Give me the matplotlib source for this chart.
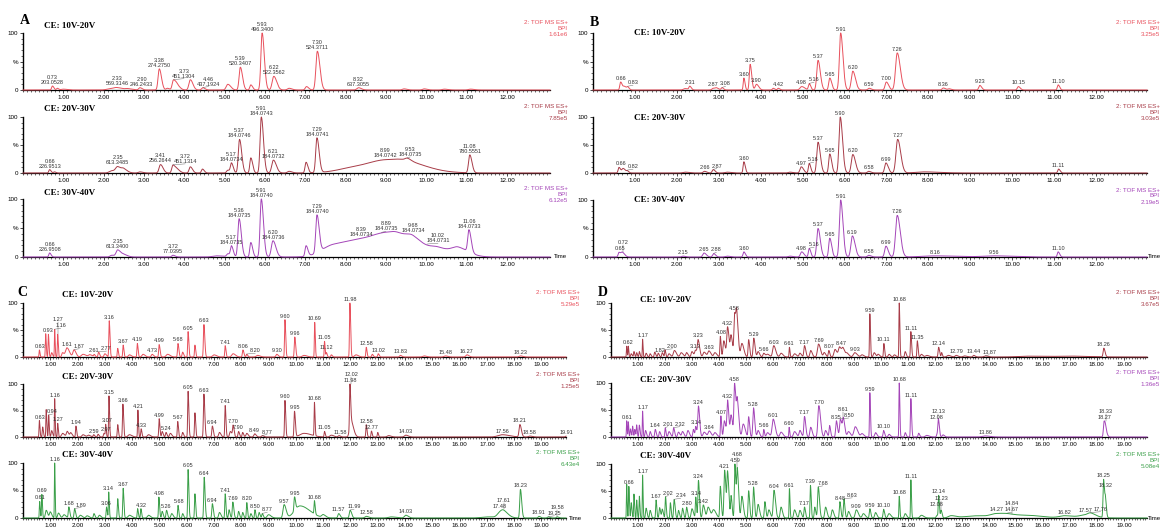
import numpy as np
import matplotlib
matplotlib.use('Agg')
import matplotlib.pyplot as plt
from matplotlib.ticker import MultipleLocator, FixedLocator

plt.rcParams['font.family'] = ['Liberation Sans', 'DejaVu Sans']

# ---- peak tables: (retention time, height %, width) ----
A1_peaks = [(0.73, 7, .02), (0.85, 3, .02), (1.0, 1.5, .05), (2.15, 2, .08), (2.33, 3.5, .08),
            (2.6, 2, .06), (2.90, 4, .03), (3.38, 37, .03), (3.58, 3, .03), (3.73, 17, .03),
            (3.82, 8, .04), (4.15, 18, .035), (4.46, 4, .03), (5.08, 10, .04), (5.39, 40, .03),
            (5.65, 9, .025), (5.93, 100, .03), (6.22, 24, .04), (6.6, 3, .04), (7.03, 6, .03),
            (7.30, 68, .035), (8.32, 4, .04), (9.45, 2, .04), (9.95, 2, .04), (10.45, 1.5, .05),
            (11.1, 1.5, .05)]
A1_labels = ["0.73\n203.0528", "2.33\n569.3146", "2.90\n246.2433", "3.38\n274.2750",
             "3.73\n451.1304", "4.46\n437.1924", "5.39\n520.3407", "5.93\n496.3400",
             "6.22\n522.3562", "7.30\n524.3711", "8.32\n637.3055"]

A2_peaks = [(0.66, 6, .02), (0.78, 2, .02), (2.2, 4, .06), (2.35, 10, .05), (2.5, 6, .05),
            (2.9, 2, .04), (3.41, 15, .035), (3.72, 14, .03), (3.82, 6, .04), (4.15, 11, .03),
            (4.45, 7, .025), (5.08, 5, .03), (5.17, 17, .025), (5.37, 60, .03), (5.65, 27, .025),
            (5.91, 100, .03), (6.21, 23, .04), (6.6, 3, .04), (7.02, 19, .025), (7.29, 62, .03),
            (8.3, 10, .45), (9.0, 15, .4), (9.5, 8, .3), (9.53, 4, .05), (11.08, 32, .03)]
A2_labels = ["0.66\n226.9513", "2.35\n613.3485", "3.41\n256.2644", "3.72\n451.1314",
             "5.17\n184.0734", "5.37\n184.0746", "5.91\n184.0743", "6.21\n184.0732",
             "7.29\n184.0741", "8.99\n184.0742", "9.53\n184.0735", "11.08\n780.5551"]

A3_peaks = [(0.66, 7, .02), (2.2, 3, .04), (2.35, 12, .04), (2.5, 4, .05), (3.72, 3, .03),
            (4.8, 2, .1), (5.08, 5, .03), (5.17, 18, .025), (5.36, 66, .03), (5.65, 25, .025),
            (5.91, 100, .03), (6.20, 28, .04), (7.02, 18, .025), (7.29, 65, .03), (7.7, 18, .3),
            (8.5, 20, .45), (9.0, 22, .35), (9.3, 10, .2), (9.68, 12, .15), (10.3, 12, .2),
            (10.8, 12, .15), (11.06, 38, .03)]
A3_labels = ["0.66\n226.9508", "2.35\n613.3400", "3.72\n77.0395", "5.17\n184.0735",
             "5.36\n184.0735", "5.91\n184.0740", "6.20\n184.0736", "7.29\n184.0740",
             "8.39\n184.0734", "8.89\n184.0735", "9.68\n184.0734", "10.02\n184.0731",
             "11.06\n184.0733"]

B1_peaks = [(0.66, 14, .02), (0.75, 6, .03), (0.83, 4, .02), (2.2, 2.5, .04), (2.31, 6, .02),
            (2.87, 3, .03), (2.95, 3, .03), (3.08, 4, .02), (3.60, 21, .015), (3.75, 45, .02),
            (3.90, 10, .03), (4.3, 3, .02), (4.42, 3, .02), (4.98, 6, .04), (5.16, 11, .02),
            (5.37, 52, .03), (5.65, 21, .025), (5.91, 100, .03), (6.20, 33, .035), (6.59, 3, .03),
            (7.00, 14, .03), (7.26, 65, .04), (8.36, 3.5, .03), (8.5, 2, .03), (9.23, 8, .025),
            (10.15, 6, .025), (11.10, 9, .02)]
B1_labels = ["0.66", "0.83", "2.31", "2.87", "3.08", "3.60", "3.75", "3.90", "4.42", "4.98",
             "5.16", "5.37", "5.65", "5.91", "6.20", "6.59", "7.00", "7.26", "8.36", "9.23",
             "10.15", "11.10"]

B2_peaks = [(0.62, 10, .02), (0.72, 8, .03), (0.82, 3, .02), (2.2, 1.5, .05), (2.66, 3, .03),
            (2.87, 6, .025), (3.2, 1.5, .05), (3.60, 20, .018), (4.7, 1.5, .04), (4.97, 11, .03),
            (5.16, 17, .02), (5.37, 55, .03), (5.65, 34, .025), (5.90, 100, .03), (6.20, 33, .035),
            (6.58, 3, .03), (6.99, 18, .03), (7.27, 60, .04), (7.9, 2, .2), (11.11, 7, .02)]
B2_labels = ["0.66", "0.82", "2.66", "2.87", "3.60", "4.97", "5.16", "5.37", "5.65", "5.90",
             "6.20", "6.58", "6.99", "7.27", "11.11"]

B3_peaks = [(0.62, 8, .02), (0.7, 8, .03), (2.15, 1.5, .03), (2.65, 7, .03), (2.88, 6, .025),
            (3.2, 1.5, .04), (3.60, 9, .02), (4.7, 1.5, .04), (4.98, 9, .03), (5.16, 15, .02),
            (5.37, 50, .03), (5.65, 33, .025), (5.91, 100, .03), (6.19, 37, .035), (6.58, 3, .03),
            (6.99, 19, .03), (7.26, 73, .04), (8.16, 2, .3), (9.56, 2, .25), (11.10, 9, .02)]
B3_labels = ["0.65", "0.72", "2.15", "2.65", "2.88", "3.60", "4.98", "5.16", "5.37", "5.65",
             "5.91", "6.19", "6.58", "6.99", "7.26", "8.16", "9.56", "11.10"]

C1_peaks = [(0.6, 13, .012), (0.83, 43, .012), (0.93, 42, .012), (1.05, 8, .02), (1.16, 51, .01),
            (1.27, 42, .012), (1.45, 8, .03), (1.61, 17, .05), (1.87, 13, .04), (2.2, 5, .06),
            (2.45, 4, .05), (2.61, 4, .02), (2.77, 9, .02), (3.0, 6, .03), (3.16, 67, .015),
            (3.47, 16, .015), (3.67, 22, .015), (3.9, 4, .04), (4.19, 25, .015), (4.4, 5, .04),
            (4.73, 5, .03), (4.99, 23, .018), (5.3, 5, .05), (5.68, 25, .018), (5.85, 9, .02),
            (6.05, 47, .015), (6.3, 22, .015), (6.63, 60, .018), (7.0, 4, .05), (7.41, 21, .015),
            (7.7, 6, .05), (8.06, 13, .02), (8.20, 5, .02), (8.6, 3, .05), (9.30, 5, .03),
            (9.60, 69, .015), (9.96, 37, .018), (10.3, 3, .06), (10.69, 64, .012), (11.05, 29, .012),
            (11.12, 8, .015), (11.3, 4, .02), (11.98, 100, .015), (12.2, 4, .05), (12.58, 18, .015),
            (12.8, 5, .02), (13.02, 6, .02), (13.83, 3, .03), (14.7, 2, .05), (15.48, 2, .05),
            (16.27, 4, .04), (18.23, 2, .05)]
C1_labels = ["0.63", "0.93", "1.16", "1.27", "1.61", "1.87", "2.61", "2.77", "3.16", "3.67",
             "4.19", "4.73", "4.99", "5.68", "6.05", "6.63", "7.41", "8.06", "8.20", "9.30",
             "9.60", "9.96", "10.69", "11.05", "11.12", "11.98", "12.58", "13.02", "13.83",
             "15.48", "16.27", "18.23"]

C2_peaks = [(0.6, 36, .012), (0.72, 22, .015), (0.85, 60, .012), (0.94, 48, .012), (1.05, 14, .02),
            (1.16, 84, .01), (1.27, 30, .012), (1.45, 8, .04), (1.62, 12, .03), (1.75, 9, .03),
            (1.94, 24, .015), (2.2, 5, .04), (2.4, 4, .04), (2.59, 5, .02), (2.75, 6, .02),
            (2.97, 8, .02), (3.03, 26, .012), (3.15, 90, .012), (3.47, 27, .015), (3.66, 72, .015),
            (3.9, 5, .05), (4.21, 59, .012), (4.33, 18, .015), (4.6, 5, .04), (4.99, 40, .015),
            (5.1, 12, .02), (5.24, 10, .02), (5.4, 8, .03), (5.67, 34, .015), (5.85, 10, .02),
            (6.05, 100, .015), (6.3, 53, .015), (6.63, 94, .018), (6.94, 24, .02), (7.2, 10, .03),
            (7.41, 69, .015), (7.6, 12, .03), (7.70, 24, .02), (7.90, 12, .02), (8.05, 10, .02),
            (8.2, 8, .03), (8.49, 7, .03), (8.77, 3, .03), (9.60, 80, .015), (9.95, 56, .018),
            (10.3, 8, .15), (10.68, 73, .012), (11.05, 12, .015), (11.3, 4, .05), (11.58, 3, .03),
            (11.98, 90, .015), (12.02, 35, .05), (12.58, 27, .015), (12.77, 13, .015), (13.0, 10, .015),
            (13.4, 3, .05), (14.03, 4, .05), (17.56, 5, .15), (18.21, 27, .03), (18.58, 2, .05),
            (19.91, 2, .03)]
C2_labels = ["0.63", "0.94", "1.16", "1.27", "1.94", "2.59", "2.97", "3.07", "3.15", "3.66",
             "4.21", "4.33", "4.99", "5.24", "5.67", "6.05", "6.63", "6.94", "7.41", "7.70",
             "7.90", "8.49", "8.77", "9.60", "9.95", "10.68", "11.05", "11.58", "11.98", "12.02",
             "12.58", "12.77", "14.03", "17.56", "18.21", "18.58", "19.91"]

C3_peaks = [(0.61, 30, .012), (0.69, 43, .012), (0.85, 14, .03), (1.0, 11, .03), (1.16, 100, .01),
            (1.3, 9, .03), (1.5, 6, .04), (1.68, 20, .02), (1.89, 17, .02), (2.1, 5, .04),
            (2.35, 4, .04), (2.6, 8, .02), (2.8, 5, .03), (3.06, 20, .015), (3.14, 47, .012),
            (3.47, 35, .015), (3.67, 54, .015), (3.9, 5, .05), (4.2, 17, .015), (4.32, 17, .015),
            (4.6, 5, .04), (4.98, 38, .015), (5.1, 12, .02), (5.26, 14, .02), (5.45, 8, .03),
            (5.68, 23, .015), (5.85, 8, .02), (6.05, 88, .015), (6.3, 44, .015), (6.64, 74, .018),
            (6.94, 26, .02), (7.2, 10, .03), (7.41, 44, .015), (7.55, 15, .02), (7.69, 29, .02),
            (7.9, 12, .02), (8.05, 10, .02), (8.20, 28, .015), (8.35, 8, .02), (8.50, 15, .015),
            (8.65, 10, .02), (8.77, 8, .02), (9.0, 6, .05), (9.57, 24, .04), (9.95, 25, .02),
            (10.15, 22, .2), (10.68, 24, .015), (11.0, 5, .05), (11.57, 8, .03), (11.99, 14, .03),
            (12.58, 3, .05), (13.5, 2, .1), (14.03, 5, .05), (17.0, 2, .2), (17.48, 8, .1),
            (17.61, 8, .1), (18.23, 52, .025), (18.91, 3, .03), (19.25, 2, .03), (19.58, 2, .03)]
C3_labels = ["0.61", "0.69", "1.16", "1.68", "1.89", "3.06", "3.14", "3.67", "4.32", "4.98",
             "5.26", "5.68", "6.05", "6.64", "6.94", "7.41", "7.69", "8.20", "8.50", "8.77",
             "9.57", "9.95", "10.68", "11.57", "11.99", "12.58", "14.03", "17.48", "17.61",
             "18.23", "18.91", "19.25", "19.58"]

D1_peaks = [(0.58, 20, .01), (0.64, 20, .01), (0.75, 6, .02), (0.85, 10, .015), (0.95, 8, .015),
            (1.05, 10, .015), (1.17, 33, .01), (1.3, 7, .02), (1.45, 6, .02), (1.62, 9, .02),
            (1.75, 7, .02), (1.9, 8, .02), (2.00, 13, .015), (2.15, 6, .03), (2.35, 12, .04),
            (2.6, 8, .04), (2.8, 8, .03), (3.0, 10, .03), (3.13, 12, .03), (3.23, 30, .03),
            (3.45, 9, .04), (3.63, 11, .04), (3.85, 8, .04), (4.05, 38, .015), (4.18, 30, .03),
            (4.32, 55, .03), (4.45, 38, .03), (4.58, 78, .025), (4.66, 72, .03), (4.85, 25, .04),
            (5.1, 32, .02), (5.29, 35, .025), (5.45, 10, .03), (5.66, 7, .03), (5.8, 5, .04),
            (6.03, 21, .04), (6.3, 7, .04), (6.61, 18, .012), (6.8, 6, .04), (7.0, 7, .03),
            (7.17, 21, .025), (7.4, 12, .03), (7.69, 24, .04), (7.9, 8, .03), (8.07, 12, .02),
            (8.3, 14, .04), (8.47, 18, .04), (8.6, 14, .04), (8.75, 6, .04), (9.03, 8, .05),
            (9.3, 4, .04), (9.59, 80, .013), (9.75, 8, .03), (9.9, 5, .03), (10.11, 25, .015),
            (10.3, 5, .03), (10.5, 4, .03), (10.68, 100, .012), (10.9, 10, .02), (11.11, 47, .015),
            (11.35, 30, .015), (11.5, 5, .03), (11.7, 3, .05), (12.14, 18, .02), (12.25, 8, .015),
            (12.5, 3, .05), (12.79, 3, .04), (13.1, 2, .05), (13.44, 3, .03), (13.87, 2, .05),
            (15.5, 1.5, .4), (17.0, 1.5, .4), (18.26, 16, .025)]
D1_labels = ["0.62", "1.17", "1.82", "2.00", "3.13", "3.23", "3.63", "4.08", "4.32", "4.58",
             "5.29", "5.66", "6.03", "6.61", "7.17", "7.69", "8.07", "8.47", "9.03", "9.59",
             "10.11", "10.68", "11.11", "11.35", "12.14", "12.79", "13.44", "13.87", "18.26"]

D2_peaks = [(0.58, 30, .01), (0.64, 28, .01), (0.72, 15, .015), (0.8, 20, .012), (0.88, 14, .015),
            (0.95, 22, .012), (1.05, 22, .015), (1.17, 48, .01), (1.28, 12, .02), (1.45, 10, .02),
            (1.64, 14, .02), (1.8, 10, .02), (2.01, 17, .015), (2.15, 10, .03), (2.32, 17, .02),
            (2.5, 9, .03), (2.65, 10, .03), (2.85, 12, .03), (3.05, 14, .02), (3.14, 19, .02),
            (3.24, 57, .025), (3.45, 9, .04), (3.64, 11, .04), (3.85, 8, .04), (4.07, 39, .015),
            (4.2, 30, .03), (4.32, 66, .025), (4.45, 40, .03), (4.58, 97, .025), (4.68, 65, .03),
            (4.9, 24, .04), (5.1, 37, .02), (5.28, 54, .025), (5.45, 12, .03), (5.66, 14, .015),
            (5.8, 8, .04), (6.01, 33, .04), (6.3, 9, .04), (6.60, 18, .012), (6.8, 10, .04),
            (7.0, 12, .03), (7.17, 38, .025), (7.4, 18, .03), (7.70, 58, .035), (7.95, 12, .03),
            (8.1, 21, .02), (8.35, 30, .025), (8.50, 33, .03), (8.61, 32, .03), (8.8, 10, .04),
            (9.05, 19, .05), (9.3, 6, .04), (9.59, 82, .013), (9.8, 8, .03), (10.10, 12, .02),
            (10.3, 5, .03), (10.68, 100, .012), (10.9, 8, .02), (11.11, 71, .015), (11.4, 7, .02),
            (11.7, 3, .05), (12.08, 5, .02), (12.13, 32, .02), (12.3, 4, .03), (13.86, 2, .1),
            (18.27, 28, .025), (18.33, 10, .03)]
D2_labels = ["0.61", "1.17", "1.64", "2.01", "2.32", "3.14", "3.24", "3.64", "4.07", "4.32",
             "4.58", "5.28", "5.66", "6.01", "6.60", "7.17", "7.70", "8.35", "8.50", "8.61",
             "9.59", "10.10", "10.68", "11.11", "12.08", "12.13", "13.86", "18.27", "18.33"]

D3_peaks = [(0.58, 62, .01), (0.66, 58, .012), (0.75, 28, .015), (0.85, 44, .012), (0.95, 33, .012),
            (1.05, 40, .012), (1.17, 79, .01), (1.3, 18, .02), (1.45, 14, .02), (1.67, 33, .015),
            (1.8, 19, .02), (1.9, 16, .02), (2.02, 39, .015), (2.2, 28, .015), (2.34, 34, .02),
            (2.5, 14, .02), (2.65, 18, .02), (2.80, 20, .02), (3.0, 17, .03), (3.14, 38, .015),
            (3.24, 69, .02), (3.42, 24, .03), (3.6, 20, .04), (3.8, 15, .05), (4.05, 58, .02),
            (4.21, 88, .025), (4.32, 82, .025), (4.45, 40, .02), (4.59, 99, .02), (4.68, 88, .025),
            (4.85, 40, .03), (5.1, 50, .02), (5.28, 57, .02), (5.45, 25, .03), (5.7, 30, .02),
            (5.85, 15, .03), (6.04, 51, .03), (6.3, 20, .03), (6.61, 54, .012), (6.8, 15, .03),
            (7.0, 14, .03), (7.17, 20, .02), (7.39, 60, .015), (7.55, 20, .02), (7.68, 57, .025),
            (7.95, 20, .03), (8.2, 15, .03), (8.48, 30, .02), (8.63, 35, .02), (8.8, 12, .03),
            (9.09, 15, .04), (9.35, 8, .04), (9.59, 17, .02), (9.8, 10, .03), (10.10, 16, .02),
            (10.3, 8, .04), (10.68, 40, .012), (10.9, 8, .03), (11.11, 70, .012), (11.5, 5, .05),
            (12.08, 5, .03), (12.14, 39, .015), (12.23, 14, .02), (12.6, 4, .1), (13.5, 4, .4),
            (14.27, 5, .2), (14.8, 5, .3), (15.6, 3, .3), (16.82, 4, .2), (17.57, 5, .2),
            (17.76, 5, .1), (18.25, 70, .02), (18.32, 30, .02)]
D3_labels = ["0.66", "1.17", "1.67", "2.02", "2.34", "2.80", "3.14", "3.24", "3.42", "4.21",
             "4.59", "4.68", "5.28", "6.04", "6.61", "7.17", "7.39", "7.68", "8.48", "8.63",
             "9.09", "9.59", "10.10", "10.68", "11.11", "12.08", "12.14", "12.23", "14.27",
             "14.67", "14.84", "16.82", "17.57", "17.76", "18.25", "18.32"]

ce_names = ["CE: 10V-20V", "CE: 20V-30V", "CE: 30V-40V"]
A_scale = ["1.61e6", "7.85e5", "6.12e5"]
B_scale = ["3.25e5", "3.03e5", "2.19e5"]
C_scale = ["5.29e5", "1.25e5", "6.43e4"]
D_scale = ["3.67e5", "1.36e5", "5.08e4"]

red = '#e8505c'
brown = '#a83c48'
purple = '#a445b8'
green = '#3a9f48'

W, H = 1162, 527
fig = plt.figure(figsize=(W / 100, H / 100), dpi=100)
LAB_FS = 4


def build(t, peaks):
    y = np.zeros_like(t)
    for rt, h, w in peaks:
        s = np.where(t < rt, w, w * 1.8)
        y += h * np.exp(-0.5 * ((t - rt) / s) ** 2)
    return y / y.max() * 100


def text_w(s):
    em = LAB_FS * 100 / 72
    return sum(0.556 * em if c.isdigit() else 0.278 * em for c in s)


def overlap(a, b):
    return a[0] < b[1] and b[0] < a[1] and a[2] < b[3] and b[2] < a[3]


def put_labels(ax, t, y, labels, sx, sy):
    # greedy placement in pixel units (x to the right, z upward from the zero line)
    placed = []
    for lab in labels:
        rt = float(lab.split('\n')[0])
        m = np.abs(t - rt) < 0.04
        top = y[m].max() if m.any() else 0
        lines = lab.split('\n')
        wpx = max(text_w(s) for s in lines) + 1
        hpx = 5.8 * len(lines)
        cx, zb = rt * sx, (top + 2) * sy
        for _ in range(8):
            box = (cx - wpx / 2, cx + wpx / 2, zb, zb + hpx)
            hit = [b for b in placed if overlap(box, b)]
            if not hit:
                break
            b = hit[0]
            shift = b[1] - box[0] + 0.5
            if cx + shift - rt * sx <= wpx * 0.75:
                cx += shift
            else:
                cx = rt * sx
                zb = b[3] + 0.3
        placed.append((cx - wpx / 2, cx + wpx / 2, zb, zb + hpx))
        tx, ty = cx / sx, zb / sy
        ax.text(tx, ty, lab, fontsize=LAB_FS, ha='center', va='bottom',
                linespacing=1.0, color='#333333', zorder=4)
        if abs(cx - rt * sx) > 2 or zb - (top + 2) * sy > 2:
            ax.plot([rt, tx], [top + 0.5, ty], color='#555555', lw=0.3, zorder=4, clip_on=False)


def draw_panel(letter, letter_xy, x0, xend, xmax, rows, traces, scales, colors,
               ce_x, ce_dy, right_x, nmaj, time_dx):
    fig.text(letter_xy[0] / W, 1 - letter_xy[1] / H, letter, fontsize=10, fontweight='bold',
             family='Liberation Serif', va='center', ha='left')
    t = np.linspace(0, xmax, 8000)
    for i, ((y100, y0), (peaks, labels), sc, col) in enumerate(zip(rows, traces, scales, colors)):
        ax = fig.add_axes([x0 / W, 1 - y0 / H, (xend - x0) / W, (y0 - y100) / H])
        y = build(t, peaks)
        ax.plot(t, y, color=col, lw=0.7, clip_on=False, zorder=3)
        ax.set_xlim(0, xmax)
        ax.set_ylim(0, 100)
        for s in ['top', 'right']:
            ax.spines[s].set_visible(False)
        ax.spines['left'].set_bounds(0, 100)
        ax.spines['left'].set_linewidth(1.0)
        ax.spines['bottom'].set_linewidth(0.9)
        ax.yaxis.set_major_locator(FixedLocator([0, 50, 100]))
        ax.set_yticklabels(['0', '%', '100'])
        ax.yaxis.set_minor_locator(MultipleLocator(10))
        ax.xaxis.set_major_locator(FixedLocator(np.arange(1, nmaj + 1)))
        ax.set_xticklabels(['%.2f' % v for v in np.arange(1, nmaj + 1)])
        ax.xaxis.set_minor_locator(MultipleLocator(0.1))
        ax.tick_params(axis='both', which='major', labelsize=4.5, length=2.5, width=0.5, pad=1)
        ax.tick_params(axis='both', which='minor', length=1.3, width=0.4)
        ax.patch.set_alpha(0)
        put_labels(ax, t, y, labels, (xend - x0) / xmax, (y0 - y100) / 100)
        fig.text(ce_x / W, 1 - (y100 + ce_dy[i]) / H, ce_names[i], fontsize=6.5,
                 fontweight='bold', family='Liberation Serif', va='center', ha='left')
        for k, txt in enumerate(['2: TOF MS ES+', 'BPI', sc]):
            fig.text(right_x / W, 1 - (y100 - 10 + 6 * k) / H, txt, fontsize=4.5,
                     color=col, ha='right', va='center')
        if i == 2:
            fig.text((xend + time_dx) / W, 1 - y0 / H, 'Time', fontsize=4.3,
                     ha='left', va='center')


draw_panel('A', (20, 20), 23, 550, 13.07, [(33, 90), (117, 173), (199, 257)],
           [(A1_peaks, A1_labels), (A2_peaks, A2_labels), (A3_peaks, A3_labels)],
           A_scale, [red, brown, purple], 44, [-7, -8, -6], 568, 12, 4)
draw_panel('B', (590, 22), 593, 1147, 13.22, [(33, 90), (117, 173), (200, 257)],
           [(B1_peaks, B1_labels), (B2_peaks, B2_labels), (B3_peaks, B3_labels)],
           B_scale, [red, brown, purple], 634, [0, 1, 0], 1160, 12, 0.5)
draw_panel('C', (17, 292), 23, 566, 19.9, [(303, 357), (384, 437), (463, 518)],
           [(C1_peaks, C1_labels), (C2_peaks, C2_labels), (C3_peaks, C3_labels)],
           C_scale, [red, brown, green], 62, [-8, -7, -8], 580, 19, 3)
draw_panel('D', (598, 292), 611, 1147, 19.86, [(303, 357), (383, 437), (464, 518)],
           [(D1_peaks, D1_labels), (D2_peaks, D2_labels), (D3_peaks, D3_labels)],
           D_scale, [brown, purple, green], 640, [-3, -3, -8], 1160, 19, 0.5)

fig.savefig('out.png', dpi=100)
